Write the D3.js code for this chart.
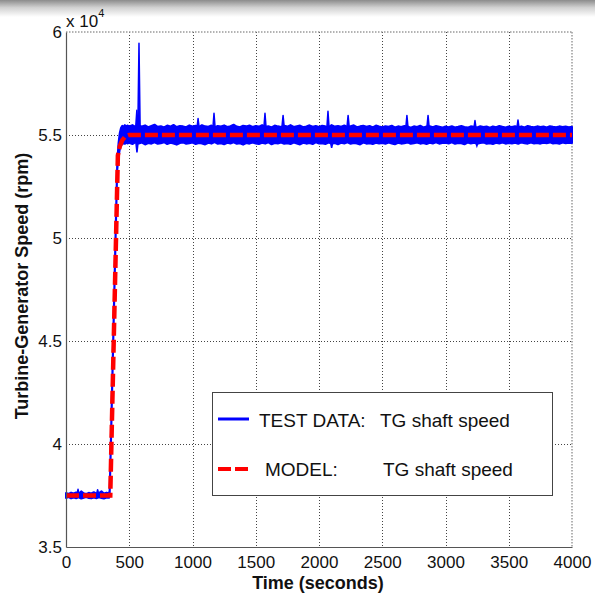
<!DOCTYPE html>
<html>
<head>
<meta charset="utf-8">
<script src="https://cdn.jsdelivr.net/npm/d3@7"></script>
<style>
  html, body { margin: 0; padding: 0; background: #fff; }
  svg { display: block; font-family: "Liberation Sans", Arial, sans-serif; }
</style>
</head>
<body>
<svg id="chart" width="595" height="597"></svg>
<script>
// ---- data -------------------------------------------------------------
const xTicks = [0, 500, 1000, 1500, 2000, 2500, 3000, 3500, 4000];
const yTicks = [35000, 40000, 45000, 50000, 55000, 60000];
const yTickLabels = ["3.5", "4", "4.5", "5", "5.5", "6"];

// Test data: min/max envelope of the measured shaft speed (rpm)
const preStep = 20;          // 0 .. 340 s
const preHigh = [37620, 37580, 37640, 37600, 37650, 37590, 37700, 37610, 37580,
                 37630, 37600, 37660, 37590, 37620, 37700, 37600, 37640, 37610];
const preLow  = [37380, 37420, 37360, 37400, 37370, 37410, 37350, 37390, 37420,
                 37380, 37360, 37400, 37370, 37410, 37380, 37350, 37400, 37390];

const rampTime = [345, 355, 365, 375, 385, 395, 405, 415, 425, 435, 445, 455, 465, 475, 485];
const rampHigh = [37750, 40300, 43000, 45700, 48400, 51100, 53700, 54600, 55100, 55350, 55450, 55400, 55480, 55420, 55460];
const rampLow  = [37450, 39900, 42600, 45300, 48000, 50700, 53300, 53900, 54300, 54500, 54550, 54600, 54570, 54620, 54590];

const steadyStart = 500, steadyStep = 25;   // 500 .. 4000 s
const steadyHigh = [
  55420, 55480, 55390, 55450, 55410, 55470, 55380, 55440, 55500, 55400,
  55430, 55370, 55460, 55410, 55490, 55390, 55440, 55420, 55380, 55470,
  55410, 55450, 55390, 55480, 55420, 55400, 55460, 55380, 55440, 55410,
  55470, 55390, 55430, 55500, 55410, 55380, 55450, 55420, 55460, 55390,
  55440, 55410, 55480, 55400, 55430, 55370, 55460, 55420, 55390, 55450,
  55410, 55480, 55390, 55430, 55460, 55380, 55420, 55470, 55400, 55440,
  55390, 55450, 55420, 55380, 55480, 55410, 55440, 55400, 55460, 55390,
  55430, 55470, 55380, 55420, 55450, 55400, 55440, 55370, 55460, 55410,
  55380, 55430, 55400, 55450, 55370, 55420, 55390, 55440, 55410, 55360,
  55420, 55390, 55450, 55370, 55410, 55430, 55380, 55440, 55400, 55360,
  55410, 55380, 55430, 55370, 55400, 55440, 55390, 55360, 55420, 55400,
  55370, 55430, 55390, 55410, 55360, 55420, 55380, 55440, 55400, 55370,
  55410, 55390, 55430, 55380, 55420, 55370, 55440, 55400, 55380, 55420,
  55390, 55410, 55370, 55430, 55400, 55380, 55420, 55390, 55410, 55380,
  55400];
const steadyLow = [
  54620, 54560, 54650, 54590, 54630, 54540, 54610, 54580, 54640, 54570,
  54600, 54650, 54560, 54620, 54590, 54530, 54610, 54640, 54570, 54600,
  54630, 54560, 54610, 54590, 54540, 54620, 54580, 54650, 54570, 54600,
  54550, 54620, 54590, 54640, 54570, 54600, 54530, 54610, 54580, 54630,
  54590, 54560, 54620, 54580, 54640, 54550, 54610, 54590, 54630, 54570,
  54600, 54560, 54630, 54590, 54540, 54620, 54580, 54610, 54560, 54640,
  54590, 54600, 54560, 54630, 54580, 54610, 54550, 54620, 54590, 54640,
  54570, 54610, 54590, 54540, 54630, 54580, 54600, 54560, 54620, 54590,
  54610, 54570, 54630, 54590, 54550, 54620, 54580, 54600, 54640, 54570,
  54600, 54630, 54580, 54610, 54560, 54620, 54590, 54640, 54580, 54610,
  54620, 54590, 54640, 54570, 54610, 54600, 54550, 54630, 54590, 54620,
  54580, 54610, 54640, 54570, 54600, 54560, 54620, 54590, 54630, 54580,
  54610, 54590, 54620, 54570, 54640, 54600, 54580, 54630, 54590, 54610,
  54580, 54620, 54600, 54640, 54590, 54610, 54570, 54630, 54600, 54620,
  54610];

// short transients in the test data
const spikeTime = [95, 250, 560, 577, 1044, 1170, 1573, 1716, 2071, 2230, 2695, 2862, 3233, 3573];
const spikeTop  = [37800, 37780, 56200, 59450, 55800, 56050, 56050, 55950, 56150, 55950, 55950, 55950, 55700, 55730];
const dipTime   = [561, 2100, 3248];
const dipBottom = [54150, 54380, 54470];

// Model prediction
const modelTime  = [0, 350, 410, 425, 445, 470, 500, 4000];
const modelSpeed = [37500, 37500, 54000, 54450, 54750, 54930, 55000, 55000];

// ---- layout -----------------------------------------------------------
const svg = d3.select("#chart");
const x = d3.scaleLinear().domain([0, 4000]).range([66, 572]);
const y = d3.scaleLinear().domain([35000, 60000]).range([547, 32]);

// soft shadow band along the top edge
const defs = svg.append("defs");
const grad = defs.append("linearGradient").attr("id", "topShade")
  .attr("x1", 0).attr("y1", 0).attr("x2", 0).attr("y2", 1);
grad.append("stop").attr("offset", "0%").attr("stop-color", "#8c8c8c");
grad.append("stop").attr("offset", "45%").attr("stop-color", "#d2d2d2");
grad.append("stop").attr("offset", "100%").attr("stop-color", "#ffffff");
svg.append("rect").attr("x", 0).attr("y", 0).attr("width", 595).attr("height", 17)
  .attr("fill", "url(#topShade)");

// grid
const grid = svg.append("g").attr("stroke", "#444").attr("stroke-width", 1)
  .attr("stroke-dasharray", "1,2").attr("shape-rendering", "crispEdges");
grid.selectAll("line.v").data(xTicks.filter(t => t > 0 && t < 4000)).join("line")
  .attr("class", "v")
  .attr("x1", d => Math.round(x(d)) + 0.5).attr("x2", d => Math.round(x(d)) + 0.5)
  .attr("y1", y(60000)).attr("y2", y(35000));
grid.selectAll("line.h").data(yTicks.filter(t => t > 35000 && t < 60000)).join("line")
  .attr("class", "h")
  .attr("y1", d => Math.round(y(d)) + 0.5).attr("y2", d => Math.round(y(d)) + 0.5)
  .attr("x1", x(0)).attr("x2", x(4000));

// top and right box edges (dotted, lighter)
const box = svg.append("g").attr("stroke", "#9a9a9a").attr("stroke-width", 1.5)
  .attr("stroke-dasharray", "1.5,1.5").attr("fill", "none");
box.append("line").attr("x1", x(0)).attr("x2", x(4000))
  .attr("y1", y(60000)).attr("y2", y(60000));
box.append("line").attr("x1", x(4000)).attr("x2", x(4000))
  .attr("y1", y(60000)).attr("y2", y(35000));

// ---- test data ----------------------------------------------------------
const testPts = [];
preHigh.forEach((h, i) => testPts.push({ t: i * preStep, hi: h, lo: preLow[i] }));
rampTime.forEach((t, i) => testPts.push({ t, hi: rampHigh[i], lo: rampLow[i] }));
steadyHigh.forEach((h, i) => testPts.push({ t: steadyStart + i * steadyStep, hi: h, lo: steadyLow[i] }));

const band = d3.area().x(d => x(d.t)).y0(d => y(d.lo)).y1(d => y(d.hi));
svg.append("path").datum(testPts).attr("d", band)
  .attr("fill", "#0000ff").attr("stroke", "#0000ff").attr("stroke-width", 2)
  .attr("stroke-linejoin", "round");

const bis = d3.bisector(d => d.t).left;
const envAt = t => testPts[Math.min(testPts.length - 1, bis(testPts, t))];
const spikeHalf = 9;
const tri = d3.line().x(d => x(d[0])).y(d => y(d[1]));
svg.append("g").selectAll("path.spike").data(spikeTime.map((t, i) => ({ t, v: spikeTop[i] })))
  .join("path").attr("class", "spike")
  .attr("d", d => {
    const base = envAt(d.t).hi - 60;
    return tri([[d.t - spikeHalf, base], [d.t, d.v], [d.t + spikeHalf, base]]);
  })
  .attr("fill", "#0000ff").attr("stroke", "#0000ff").attr("stroke-width", 1.5)
  .attr("stroke-linejoin", "round");
svg.append("g").selectAll("path.dip").data(dipTime.map((t, i) => ({ t, v: dipBottom[i] })))
  .join("path").attr("class", "dip")
  .attr("d", d => {
    const base = envAt(d.t).lo + 60;
    return tri([[d.t - spikeHalf, base], [d.t, d.v], [d.t + spikeHalf, base]]);
  })
  .attr("fill", "#0000ff").attr("stroke", "#0000ff").attr("stroke-width", 1.5);

// ---- model ----------------------------------------------------------------
const modelLine = d3.line().x((d, i) => x(modelTime[i])).y(d => y(d));
svg.append("path").datum(modelSpeed).attr("d", modelLine)
  .attr("fill", "none").attr("stroke", "#ff0000").attr("stroke-width", 4.5)
  .attr("stroke-dasharray", "13,4");

// ---- axes -----------------------------------------------------------------
const axisColor = "#555";
const xAxis = svg.append("g").attr("transform", `translate(0,${y(35000)})`)
  .call(d3.axisBottom(x).tickValues(xTicks).tickSize(0).tickFormat(d3.format("d")));
xAxis.select(".domain").attr("stroke", axisColor).attr("stroke-width", 1.2);
xAxis.selectAll("text").attr("y", 21).attr("dy", 0)
  .attr("font-size", 17).attr("fill", "#111")
  .attr("font-family", "'Liberation Sans', Arial, sans-serif");

const yAxis = svg.append("g").attr("transform", `translate(${x(0)},0)`)
  .call(d3.axisLeft(y).tickValues(yTicks).tickSize(0).tickPadding(4)
    .tickFormat((d, i) => yTickLabels[i]));
yAxis.select(".domain").attr("stroke", axisColor).attr("stroke-width", 1.2);
yAxis.selectAll("text").attr("font-size", 17).attr("fill", "#111")
  .attr("font-family", "'Liberation Sans', Arial, sans-serif");

// exponent note above the y axis
const expo = svg.append("text").attr("x", 66).attr("y", 27)
  .attr("font-size", 17).attr("fill", "#111");
expo.append("tspan").text("x 10");
expo.append("tspan").attr("font-size", 11).attr("dy", -10).text("4");

// axis titles
svg.append("text").attr("x", 318).attr("y", 589).attr("text-anchor", "middle")
  .attr("font-size", 18).attr("font-weight", "bold").attr("fill", "#111")
  .text("Time (seconds)");
svg.append("text").attr("transform", "translate(28,286) rotate(-90)")
  .attr("text-anchor", "middle").attr("font-size", 18).attr("font-weight", "bold")
  .attr("fill", "#111").text("Turbine-Generator Speed (rpm)");

// ---- legend ---------------------------------------------------------------
const legend = svg.append("g");
legend.append("rect").attr("x", 212.5).attr("y", 392.5).attr("width", 340).attr("height", 103)
  .attr("fill", "#fff").attr("stroke", "#444").attr("stroke-width", 1);
legend.append("line").attr("x1", 218).attr("x2", 249).attr("y1", 419).attr("y2", 419)
  .attr("stroke", "#0000ff").attr("stroke-width", 3);
legend.append("line").attr("x1", 218).attr("x2", 248).attr("y1", 469).attr("y2", 469)
  .attr("stroke", "#ff0000").attr("stroke-width", 4).attr("stroke-dasharray", "13,4");
const legText = [
  { y: 427, a: "TEST DATA:", ax: 259, b: "TG shaft speed", bx: 380 },
  { y: 476, a: "MODEL:", ax: 265, b: "TG shaft speed", bx: 383 }
];
legText.forEach(r => {
  legend.append("text").attr("x", r.ax).attr("y", r.y).attr("font-size", 19)
    .attr("fill", "#111").text(r.a);
  legend.append("text").attr("x", r.bx).attr("y", r.y).attr("font-size", 19)
    .attr("fill", "#111").text(r.b);
});
</script>
</body>
</html>
